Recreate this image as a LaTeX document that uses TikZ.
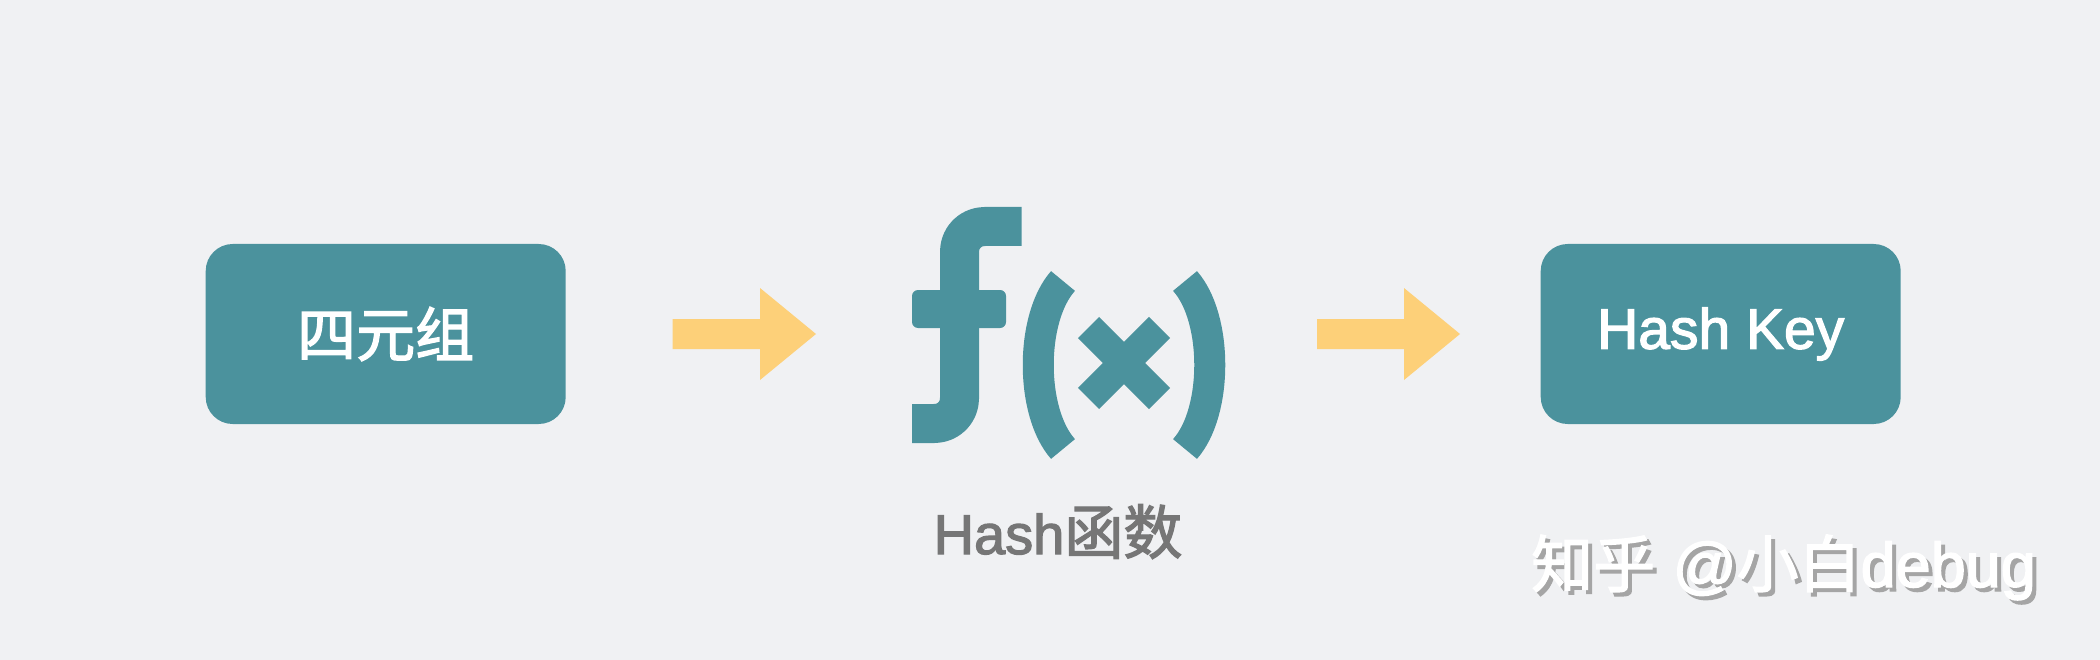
\documentclass[tikz,border=0pt]{standalone}
\usepackage{fontspec}
\setmainfont{Liberation Sans}
\newfontfamily\cjk{Noto Sans CJK SC}[FakeBold=2.2]
\newfontfamily\lat{Liberation Sans}[FakeBold=2.2]
\definecolor{bg}{RGB}{240,241,243}
\definecolor{tealc}{RGB}{75,146,157}
\definecolor{arrowc}{RGB}{253,208,121}
\definecolor{labgray}{RGB}{118,118,118}
\definecolor{shadowgray}{RGB}{165,165,165}
\tikzset{
  box/.style={fill=tealc, rounded corners=27pt, minimum width=360pt, minimum height=180pt, inner sep=0pt, text=white},
  fxstroke/.style={draw=tealc, line cap=butt, line join=round},
  bigarrow/.style={fill=arrowc, draw=none},
}
\newcommand{\wmtext}{{\fontsize{62}{66}\selectfont\cjk 知乎}{\fontsize{63}{66}\selectfont\lat\ @}{\fontsize{62}{66}\selectfont\cjk 小白}{\fontsize{63}{66}\selectfont\lat debug}}
\begin{document}
\begin{tikzpicture}[x=1pt,y=-1pt]
\useasboundingbox (0,0) rectangle (2100,660);
\fill[bg] (0,0) rectangle (2100,660);

% boxes
\node[box] (tuple) at (385.7,334) {\fontsize{59}{64}\selectfont\cjk 四元组};
\node[box] (key) at (1720.7,334) {\fontsize{57}{62}\selectfont\lat Hash Key};

% arrows
\fill[bigarrow] (672.7,319) -- (760,319) -- (760,288) -- (816,334) -- (760,380) -- (760,349) -- (672.7,349) -- cycle;
\fill[bigarrow] (1317,319) -- (1404,319) -- (1404,288) -- (1460,334) -- (1404,380) -- (1404,349) -- (1317,349) -- cycle;

% f(x) icon
\draw[fxstroke, line width=39pt, rounded corners=25pt] (912,423.5) -- (959.5,423.5) -- (959.5,226.5) -- (1021.7,226.5);
\fill[tealc, rounded corners=6pt] (912,290) rectangle (1006,328);
\draw[fxstroke, line width=31pt] (1063,281) .. controls (1030,318) and (1030,412) .. (1063,449);
\draw[fxstroke, line width=31pt] (1185,281) .. controls (1218,318) and (1218,412) .. (1185,449);
\draw[fxstroke, line width=30pt] (1088.5,327.5) -- (1159.5,398.5);
\draw[fxstroke, line width=30pt] (1159.5,327.5) -- (1088.5,398.5);

% label
\node[anchor=base, text=labgray, inner sep=0pt] (fname) at (1058,554) {\fontsize{56}{60}\selectfont\lat Hash{\fontsize{59}{62}\selectfont\cjk 函数}};

% watermark
\node[anchor=base west, text=shadowgray, inner sep=0pt] (wmshadow) at (1535,591) {\wmtext};
\node[anchor=base west, text=white, inner sep=0pt] (wm) at (1531,587) {\wmtext};
\end{tikzpicture}
\end{document}
